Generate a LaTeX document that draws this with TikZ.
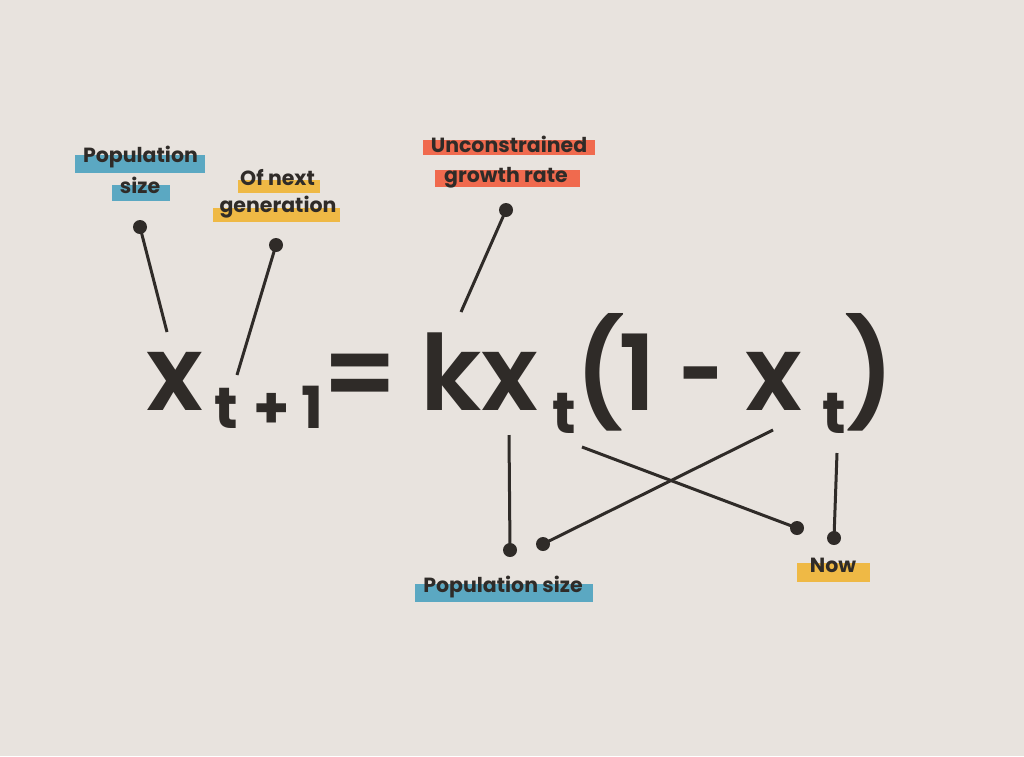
\documentclass[tikz,border=0pt]{standalone}
\usepackage{fontspec}
\setmainfont{Poppins}
\newfontfamily\popsemi{Poppins SemiBold}
\definecolor{bg}{HTML}{E8E3DE}
\definecolor{ink}{HTML}{2F2B28}
\definecolor{hlblue}{HTML}{5BA8C2}
\definecolor{hlyellow}{HTML}{EFB945}
\definecolor{hlorange}{HTML}{F06A4E}
\tikzset{
  lbl/.style={inner sep=0pt, text=ink, font=\fontsize{20.5}{20.5}\selectfont\bfseries, anchor=base},
  bigglyph/.style={inner sep=0pt, text=ink, font=\popsemi\fontsize{105}{105}\selectfont, anchor=base},
  subglyph/.style={inner sep=0pt, text=ink, font=\fontsize{58}{58}\selectfont\bfseries, anchor=base},
  enddot/.style={circle, fill=ink, minimum size=14pt, inner sep=0pt},
  conn/.style={draw=ink, line width=3pt},
}
\begin{document}
\begin{tikzpicture}[x=1pt,y=-1pt]
\fill[bg] (0,0) rectangle (1024,756);
\useasboundingbox (0,0) rectangle (1024,756);
% highlights
\fill[hlblue] (75,155) rectangle (205,173);
\fill[hlblue] (112,185) rectangle (170,201);
\fill[hlyellow] (238,180) rectangle (320,193);
\fill[hlyellow] (213,208) rectangle (340,222);
\fill[hlorange] (423,140) rectangle (595,155);
\fill[hlorange] (435,170) rectangle (580,187);
\fill[hlblue] (415,584) rectangle (593,602);
\fill[hlyellow] (797,563) rectangle (870,582);
% labels
\node[lbl] (popA) at (140.5,162) {Population};
\node[lbl] (popB) at (140,193) {size};
\node[lbl] (nextA) at (277.5,185) {Of next};
\node[lbl] (nextB) at (278,212) {generation};
\node[lbl] (growA) at (509,152) {Unconstrained};
\node[lbl] (growB) at (506,182) {growth rate};
\node[lbl] (popC) at (503,592) {Population size};
\node[lbl] (now) at (833,572) {Now};
% equation
\node[bigglyph] (xa) at (174.5,410) {x};
\node[subglyph] (ta) at (226.5,428) {t};
\node[subglyph] (plus) at (271.5,428) {+};
\node[subglyph] (onea) at (312.5,428) {1};
\node[bigglyph] (eq) at (360,410) {=};
\node[bigglyph, anchor=base west] (kx) at (420,410) {kx};
\node[subglyph] (tb) at (564,433) {t};
\node[bigglyph] (lp) at (600,410) {(};
\node[bigglyph] (oneb) at (637,410) {1};
\node[bigglyph, xscale=0.75, transform shape] (minus) at (701,410) {-};
\node[bigglyph] (xb) at (774,410) {x};
\node[subglyph] (tc) at (834,433) {t};
\node[bigglyph] (rp) at (870,410) {)};
% connector ends
\coordinate (e1) at (167,332);
\coordinate (e2) at (237,375);
\coordinate (e3) at (461,312);
\coordinate (e4) at (509,435);
\coordinate (e5) at (773,430);
\coordinate (e6) at (582,447);
\coordinate (e7) at (837,453);
% dots
\node[enddot] (d1) at (140,227) {};
\node[enddot] (d2) at (276,245) {};
\node[enddot] (d3) at (506,210) {};
\node[enddot] (d4) at (510,550) {};
\node[enddot] (d5) at (543,544) {};
\node[enddot] (d6) at (797,528) {};
\node[enddot] (d7) at (834,538) {};
\draw[conn] (d1.center) -- (e1);
\draw[conn] (d2.center) -- (e2);
\draw[conn] (d3.center) -- (e3);
\draw[conn] (e4) -- (d4.center);
\draw[conn] (e5) -- (d5.center);
\draw[conn] (e6) -- (d6.center);
\draw[conn] (e7) -- (d7.center);
\end{tikzpicture}
\end{document}
